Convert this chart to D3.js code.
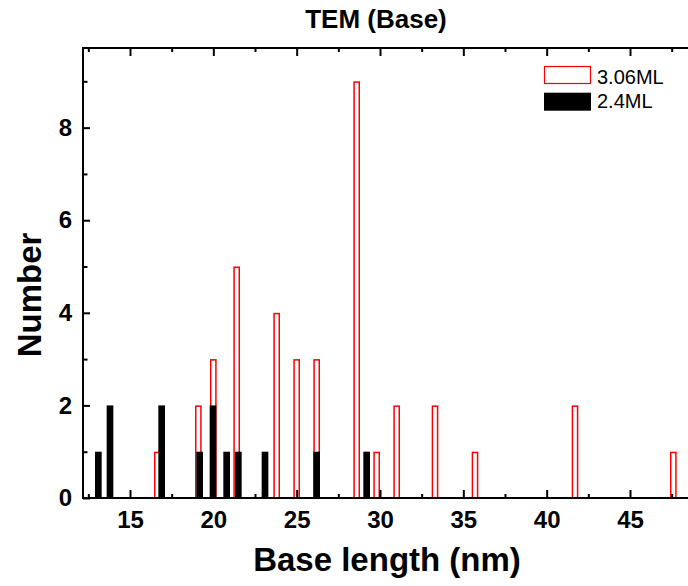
<!DOCTYPE html>
<html>
<head>
    <meta charset="utf-8">
    <title>TEM (Base)</title>
    <script src="https://cdn.jsdelivr.net/npm/d3@7/dist/d3.min.js"></script>
    <style>
        body { margin: 0; background: #fff; }
        text { font-family: "Liberation Sans", Arial, sans-serif; }
    </style>
</head>
<body>
    <svg width="688" height="586" id="mainsvg"></svg>
    <script>
        // base length (nm) and counts
        const red306X = [16.64, 19.1, 20.0, 21.4, 23.8, 25.0, 26.2, 28.6, 29.8, 31.0, 33.3, 35.7, 41.7, 47.6];
        const red306N = [1, 2, 3, 5, 4, 3, 3, 9, 1, 2, 2, 1, 2, 1];
        const black24X = [13.1, 13.8, 16.9, 19.18, 19.98, 20.8, 21.5, 23.1, 26.2, 29.2];
        const black24N = [1, 2, 2, 1, 2, 1, 1, 1, 1, 1];
        const xTicks = [15, 20, 25, 30, 35, 40, 45];
        const xMinor = [12.5, 17.5, 22.5, 27.5, 32.5, 37.5, 42.5, 47.5];
        const yTicks = [0, 2, 4, 6, 8];
        const yMinor = [1, 3, 5, 7, 9];
        const seriesNames = ['3.06ML', '2.4ML'];
        const binW = 0.4;

        const svg = d3.select('#mainsvg');
        const pL = 83, pR = 690, pT = 48, pB = 498;

        const x = d3.scaleLinear().domain([12.18, 48.6]).range([pL, pR]);
        const y = d3.scaleLinear().domain([0, 9.72]).range([pB, pT]);

        const g = svg.append('g');

        // red outlined bars (3.06ML)
        g.selectAll('rect.red')
            .data(red306X.map((v, i) => ({ x: v, n: red306N[i] })))
            .enter().append('rect')
            .attr('class', 'red')
            .attr('x', d => x(d.x - binW / 2) + 0.75)
            .attr('y', d => y(d.n) + 0.75)
            .attr('width', d => x(d.x + binW / 2) - x(d.x - binW / 2) - 1.5)
            .attr('height', d => y(0) - y(d.n) - 0.75)
            .attr('fill', 'white')
            .attr('stroke', '#ff0000')
            .attr('stroke-width', 1.5);

        // black filled bars (2.4ML)
        g.selectAll('rect.black')
            .data(black24X.map((v, i) => ({ x: v, n: black24N[i] })))
            .enter().append('rect')
            .attr('class', 'black')
            .attr('x', d => x(d.x - binW / 2))
            .attr('y', d => y(d.n))
            .attr('width', d => x(d.x + binW / 2) - x(d.x - binW / 2))
            .attr('height', d => y(0) - y(d.n))
            .attr('fill', 'black');

        // axes, ticks pointing inward
        const styleAxis = sel => {
            sel.select('.domain').remove();
            sel.selectAll('line').attr('stroke', 'black').attr('stroke-width', 2);
            sel.selectAll('text').attr('font-size', 24).attr('font-weight', 'bold').attr('fill', 'black');
        };

        svg.append('g').attr('transform', `translate(0,${pB})`)
            .call(d3.axisBottom(x).tickValues(xTicks).tickSize(-8).tickPadding(13).tickFormat(d3.format('d')))
            .call(styleAxis);
        svg.append('g').attr('transform', `translate(0,${pB})`)
            .call(d3.axisBottom(x).tickValues(xMinor).tickSize(-4).tickFormat(''))
            .call(styleAxis);
        svg.append('g').attr('transform', `translate(0,${pT})`)
            .call(d3.axisTop(x).tickValues(xTicks).tickSize(-8).tickFormat(''))
            .call(styleAxis);
        svg.append('g').attr('transform', `translate(0,${pT})`)
            .call(d3.axisTop(x).tickValues(xMinor).tickSize(-4).tickFormat(''))
            .call(styleAxis);
        svg.append('g').attr('transform', `translate(${pL},0)`)
            .call(d3.axisLeft(y).tickValues(yTicks).tickSize(-7).tickPadding(11).tickFormat(d3.format('d')))
            .call(styleAxis);
        svg.append('g').attr('transform', `translate(${pL},0)`)
            .call(d3.axisLeft(y).tickValues(yMinor).tickSize(-4.5).tickFormat(''))
            .call(styleAxis);

        // frame
        svg.append('rect')
            .attr('x', pL).attr('y', pT)
            .attr('width', pR - pL).attr('height', pB - pT)
            .attr('fill', 'none').attr('stroke', 'black').attr('stroke-width', 2);

        // title and axis labels
        svg.append('text').attr('x', 376).attr('y', 28).attr('text-anchor', 'middle')
            .attr('font-size', 26).attr('font-weight', 'bold').text('TEM (Base)');
        svg.append('text').attr('x', 387).attr('y', 571).attr('text-anchor', 'middle')
            .attr('font-size', 33).attr('font-weight', 'bold').text('Base length (nm)');
        svg.append('text').attr('transform', 'translate(41,295) rotate(-90)').attr('text-anchor', 'middle')
            .attr('font-size', 33).attr('font-weight', 'bold').text('Number');

        // legend
        const lg = svg.append('g');
        lg.append('rect').attr('x', 544.5).attr('y', 66.5).attr('width', 46).attr('height', 17)
            .attr('fill', 'white').attr('stroke', '#ff0000').attr('stroke-width', 1.2);
        lg.append('rect').attr('x', 544).attr('y', 92.7).attr('width', 47).attr('height', 18)
            .attr('fill', 'black');
        lg.selectAll('text.leg').data(seriesNames).enter().append('text')
            .attr('x', 597).attr('y', (d, i) => 83.5 + i * 24)
            .attr('font-size', 20).text(d => d);
    </script>
</body>
</html>
